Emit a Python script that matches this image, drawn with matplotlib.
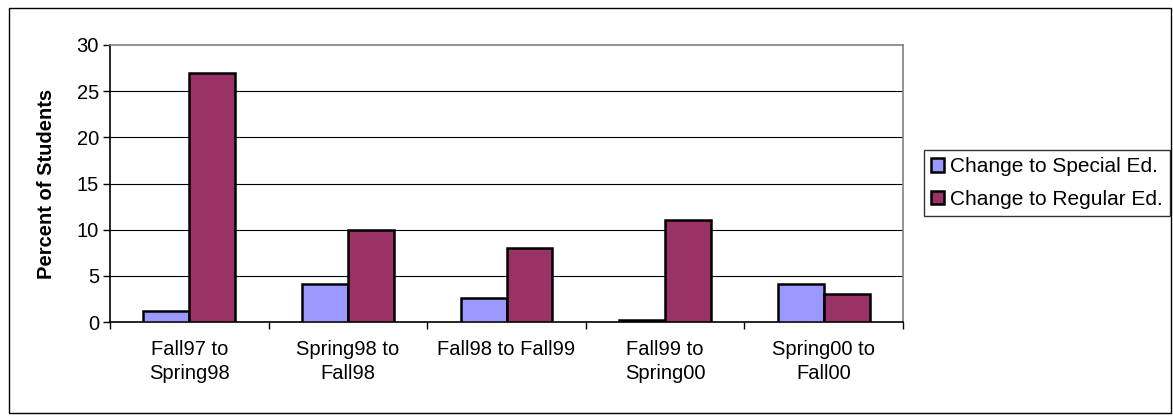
import matplotlib
matplotlib.use("Agg")
import matplotlib.pyplot as plt
import numpy as np
from matplotlib.patches import Rectangle

plt.rcParams["font.family"] = ["Liberation Sans", "DejaVu Sans"]

# data
periods = ["Fall97 to\nSpring98", "Spring98 to\nFall98", "Fall98 to Fall99",
           "Fall99 to\nSpring00", "Spring00 to\nFall00"]
special_ed = [1.2, 4.1, 2.6, 0.2, 4.1]
regular_ed = [27, 10, 8, 11, 3]
series_names = ["Change to Special Ed.", "Change to Regular Ed."]
colors = ["#9999FF", "#993366"]
y_ticks = [0, 5, 10, 15, 20, 25, 30]

FS = 14.5
W, H = 1173, 417
fig = plt.figure(figsize=(W / 100, H / 100), dpi=100)

# outer chart border
fig.patches.append(Rectangle((9 / W, 4 / H), (1171 - 9) / W, (411 - 6) / H,
                             transform=fig.transFigure, fill=False,
                             edgecolor="black", linewidth=1.0))

ax = fig.add_axes([110 / W, (H - 322) / H, (903 - 110) / W, (322 - 45) / H])

x = np.arange(len(periods))
w = 0.29
ax.bar(x - w / 2, special_ed, w, color=colors[0], edgecolor="black",
       linewidth=1.8, label=series_names[0], zorder=3)
ax.bar(x + w / 2, regular_ed, w, color=colors[1], edgecolor="black",
       linewidth=1.8, label=series_names[1], zorder=3)

ax.set_xlim(-0.5, len(periods) - 0.5)
ax.set_ylim(0, 30)
ax.set_yticks(y_ticks)
ax.tick_params(axis="y", labelsize=FS, length=5, width=1, pad=3)
for v in y_ticks[1:-1]:
    ax.axhline(v, color="black", linewidth=0.8, zorder=1)

ax.set_xticks(x)
ax.set_xticklabels(periods, fontsize=FS, linespacing=1.3)
ax.tick_params(axis="x", which="major", length=0, pad=13)
ax.set_xticks(np.arange(-0.5, len(periods), 1.0), minor=True)
ax.tick_params(axis="x", which="minor", length=5, width=1)

ax.spines["left"].set_color("black")
ax.spines["bottom"].set_color("black")
ax.spines["top"].set_color("#808080")
ax.spines["right"].set_color("#808080")
for s in ax.spines.values():
    s.set_linewidth(1.2)

ax.set_ylabel("Percent of Students", fontsize=FS, fontweight="bold", labelpad=15)

leg = fig.legend(loc="center left", bbox_to_anchor=(924 / W, (H - 183) / H),
                 fontsize=15, frameon=True, fancybox=False, edgecolor="black",
                 handlelength=0.6, handleheight=0.6, handletextpad=0.3,
                 borderpad=0.35, labelspacing=0.65, borderaxespad=0)
leg.get_frame().set_linewidth(1.0)

fig.savefig("out.png", dpi=100)
